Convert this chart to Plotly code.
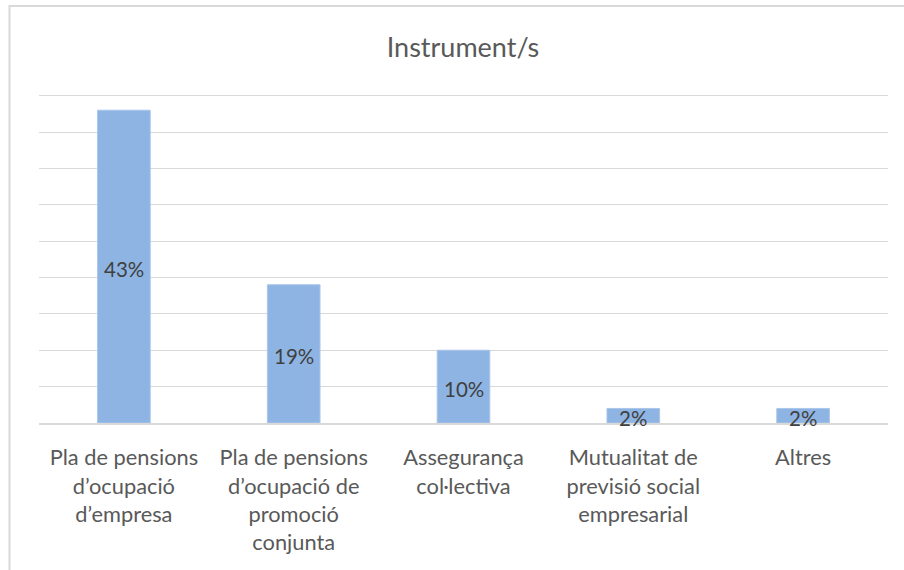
import plotly.graph_objects as go

# Chart data
categories = [
    "Pla de pensions<br>d’ocupació<br>d’empresa",
    "Pla de pensions<br>d’ocupació de<br>promoció<br>conjunta",
    "Assegurança<br>col·lectiva",
    "Mutualitat de<br>previsió social<br>empresarial",
    "Altres",
]
values = [43, 19, 10, 2, 2]
value_labels = ["43%", "19%", "10%", "2%", "2%"]
title_text = "Instrument/s"

FONT = "Lato, Calibri, Carlito, sans-serif"
W, H = 904, 570
Y_MAX = 45.5
L, R, B = 39, 16, 147
BASE_Y = H - B              # pixel row of the zero line
TOP_GRID_Y = 96             # pixel row of the 45 gridline
ph = (BASE_Y - TOP_GRID_Y) * Y_MAX / 45
T = BASE_Y - ph

fig = go.Figure()
fig.add_trace(go.Bar(
    x=categories,
    y=values,
    marker=dict(color="#8EB4E3", line=dict(color="#A9C6EA", width=1)),
    width=0.31,
    hoverinfo="skip",
))

# Value labels centred on each bar
for cat, v, lab in zip(categories, values, value_labels):
    fig.add_annotation(
        x=cat, y=v / 2, xref="x", yref="y", yshift=-2, text=lab, showarrow=False,
        font=dict(family=FONT, size=20.5, color="#404040"),
    )

# Outer chart frame
pw = W - L - R
fig.add_shape(
    type="rect", xref="paper", yref="paper",
    x0=(9.5 - L) / pw, x1=(W + 5 - L) / pw,
    y0=-(B + 5) / ph, y1=1 + (T - 6.5) / ph,
    line=dict(color="#D9D9D9", width=2), fillcolor="rgba(0,0,0,0)", layer="below",
)

fig.update_layout(
    width=W, height=H,
    margin=dict(l=L, r=R, t=T, b=B),
    paper_bgcolor="white", plot_bgcolor="white",
    showlegend=False,
    title=dict(text=title_text, x=463 / W, xanchor="center", y=1 - 48 / H, yanchor="middle",
               font=dict(family=FONT, size=27, color="#595959")),
    font=dict(family=FONT, color="#595959"),
    bargap=0.69,
)
fig.update_xaxes(
    showgrid=False, showline=True, linecolor="#D9D9D9", linewidth=2,
    ticks="", tickfont=dict(family=FONT, size=21.8, color="#595959"),
    ticklabelstandoff=14, fixedrange=True,
)
fig.update_yaxes(
    range=[0, Y_MAX], dtick=5, showgrid=True, gridcolor="#D9D9D9", gridwidth=1.3,
    showticklabels=False, zeroline=False, fixedrange=True,
)

fig.write_html("out.html")
